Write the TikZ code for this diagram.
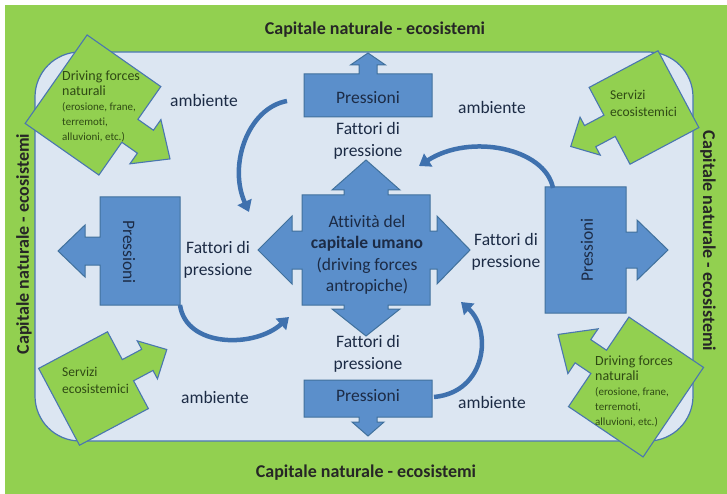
\documentclass[tikz,border=0pt]{standalone}
\usepackage{fontspec}
\setmainfont{Carlito}[Ligatures={NoCommon}]
\usepackage{tikz}
\usetikzlibrary{arrows.meta,calc}

\definecolor{bggreen}{HTML}{92D050}
\definecolor{paleblue}{HTML}{DCE6F2}
\definecolor{frameblue}{HTML}{4A76B0}
\definecolor{boxblue}{HTML}{5B8FCB}
\definecolor{boxline}{HTML}{41719C}
\definecolor{curveblue}{HTML}{3F71AE}
\definecolor{textnavy}{HTML}{1C2B45}
\definecolor{leafgreen}{HTML}{2F4A14}

\newcommand*{\ArrowBox}[9]{% #1 = style, #2 = centre, #3 = angle, #4/#5 = half box, #6/#7 = shaft, #8/#9 = head
\draw [#1, shift={(#2)}, rotate=#3]
(-#4,-#5) -- (#4,-#5) -- (#4,-#7) -- ({#4+#6},-#7) -- ({#4+#6},-#9)
-- ({#4+#6+#8},0) -- ({#4+#6},#9) -- ({#4+#6},#7) -- (#4,#7) -- (#4,#5)
-- (-#4,#5) -- cycle;
}

\begin{document}
\begin{tikzpicture}[x=1pt,y=-1pt,
    callout/.style={draw=frameblue, fill=bggreen, line width=1.1pt},
    pressbox/.style={draw=boxline, fill=boxblue, line width=1pt},
    curvearrow/.style={draw=curveblue, line width=4.5pt, -{Triangle[width=15pt,length=11pt]}},
    words/.style={font=\fontsize{17.5}{22}\selectfont, text=textnavy, align=center, inner sep=0pt},
    headline/.style={font=\fontsize{18}{22}\selectfont\bfseries, text=black!85, inner sep=0pt},
    small/.style={text=leafgreen, align=left, inner sep=0pt, anchor=north west}]

    \useasboundingbox (0,0) rectangle (727,494);
    \fill [bggreen] (5,5) rectangle (727,494);
    \draw [frameblue, fill=paleblue, line width=1.2pt, rounded corners=45pt] (35,52) rectangle (693,441);

    % titles
    \node [headline] (capN) at (375,30) {Capitale naturale - ecosistemi};
    \node [headline] (capS) at (366,473) {Capitale naturale - ecosistemi};
    \node [headline, rotate=90] (capW) at (24,244) {Capitale naturale - ecosistemi};
    \node [headline, rotate=-90] (capE) at (708,241) {Capitale naturale - ecosistemi};

    % green callouts
    \ArrowBox{callout}{93,105}{-35}{45}{54}{19}{14}{30}{27}
    \ArrowBox{callout}{636,387}{146}{45}{54}{19}{14}{30}{27}
    \ArrowBox{callout}{644,107.5}{208}{39}{43.5}{22}{12}{22}{21.5}
    \ArrowBox{callout}{93.5,388.5}{28}{39}{43.5}{22}{12}{22}{21.5}

    \node [small, font=\fontsize{11}{15}\selectfont] (drvNW) at (62,71)
        {\fontsize{14}{15}\selectfont Driving forces\\\fontsize{14}{15}\selectfont naturali\\
         \fontsize{11}{15}\selectfont (erosione, frane,\\terremoti,\\alluvioni, etc.)};
    \node [small, font=\fontsize{11}{15}\selectfont] (drvSE) at (595,356)
        {\fontsize{14}{15}\selectfont Driving forces\\\fontsize{14}{15}\selectfont naturali\\
         \fontsize{11}{15}\selectfont (erosione, frane,\\terremoti,\\alluvioni, etc.)};
    \node [small, font=\fontsize{13.5}{17}\selectfont] (srvNE) at (610,90) {Servizi\\ecosistemici};
    \node [small, font=\fontsize{13.5}{17}\selectfont] (srvSW) at (62,367) {Servizi\\ecosistemici};

    % pressioni
    \ArrowBox{pressbox}{368,95.5}{90}{21.5}{64}{9}{9}{12}{17.5}
    \ArrowBox{pressbox}{368,398.5}{-90}{18.5}{64}{5}{9}{14}{16}
    \ArrowBox{pressbox}{140,251}{180}{40}{54}{15}{14}{27}{26}
    \ArrowBox{pressbox}{585.5,250}{0}{40.5}{63}{11}{18}{31}{30}
    \node [words] (pressN) at (368,98) {Pressioni};
    \node [words] (pressS) at (368,396) {Pressioni};
    \node [words, rotate=-90] (pressW) at (129,252) {Pressioni};
    \node [words, rotate=90] (pressE) at (587,250) {Pressioni};

    % centre
    \draw [pressbox] (302,195) -- (344,195) -- (344,190) -- (332,190) -- (366,160) -- (400,190)
        -- (388,190) -- (388,195) -- (430,195) -- (430,231) -- (437,231) -- (437,216) -- (470,250)
        -- (437,284) -- (437,269) -- (430,269) -- (430,305) -- (388,305) -- (388,309) -- (400,309)
        -- (366,336) -- (332,309) -- (344,309) -- (344,305) -- (302,305) -- (302,269) -- (292,269)
        -- (292,284) -- (258,250) -- (292,216) -- (292,231) -- (302,231) -- cycle;
    \node [words, font=\fontsize{17.5}{21.5}\selectfont] (core) at (367,255)
        {Attivit\`a del\\\textbf{capitale umano}\\(driving forces\\antropiche)};

    \foreach \x/\y/\name in {368/141/fatN, 368/354/fatS, 218/260/fatW, 506/252/fatE}
        \node [words] (\name) at (\x,\y) {Fattori di\\pressione};
    \foreach \x/\y/\name in {204/100/ambNW, 492/107/ambNE, 215/397/ambSW, 492/402/ambSE}
        \node [words] (\name) at (\x,\y) {ambiente};

    % curved arrows
    \draw [curvearrow] (287,101) .. controls (248,108) and (228,165) .. (249,212);
    \draw [curvearrow] (180,305) .. controls (186,348) and (255,348) .. (289,317);
    \draw [curvearrow] (434,397) .. controls (487,392) and (492,330) .. (461,302);
    \draw [curvearrow] (553,188) .. controls (545,148) and (470,133) .. (419,166);
\end{tikzpicture}
\end{document}
